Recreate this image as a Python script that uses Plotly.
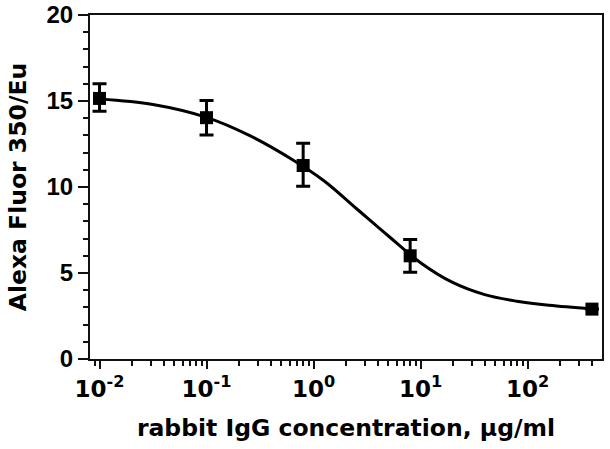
import plotly.graph_objects as go

# measured points
conc = [0.01, 0.1, 0.8, 8, 400]
signal = [15.15, 14.03, 11.25, 6.0, 2.9]
err_plus = [0.85, 1.0, 1.3, 0.95, 0.0]
err_minus = [0.75, 1.0, 1.2, 0.95, 0.0]

# fitted curve
curve_conc = [0.01, 0.0316, 0.1, 0.251, 0.631, 1.259, 2.512, 5.012, 10.0, 19.95, 39.8, 79.4, 158.5, 400]
curve_signal = [15.12, 14.8, 14.05, 13.0, 11.6, 10.35, 8.75, 7.15, 5.6, 4.45, 3.74, 3.36, 3.12, 2.92]

x_tickvals = [0.01, 0.1, 1, 10, 100]
x_ticktext = ["10<sup>-2</sup>", "10<sup>-1</sup>", "10<sup>0</sup>", "10<sup>1</sup>", "10<sup>2</sup>"]
y_tickvals = [0, 5, 10, 15, 20]
y_ticktext = ["0", "5", "10", "15", "20"]

minor_x = [m * 10 ** e for e in range(-3, 3) for m in range(2, 10)]

fig = go.Figure()
fig.add_trace(go.Scatter(
    x=curve_conc, y=curve_signal, mode="lines",
    line=dict(color="black", width=3, shape="spline", smoothing=1.0),
    hoverinfo="skip", showlegend=False))
fig.add_trace(go.Scatter(
    x=conc, y=signal, mode="markers",
    marker=dict(symbol="square", size=13, color="black"),
    error_y=dict(type="data", array=err_plus, arrayminus=err_minus,
                 color="black", thickness=3, width=7),
    showlegend=False))

tick_font_y = dict(family="Liberation Sans", size=24, color="black", weight="bold")
tick_font_x = dict(family="DejaVu Sans", size=23, color="black", weight="bold")
title_font = dict(family="DejaVu Sans", size=23.5, color="black", weight="bold")

fig.update_xaxes(
    type="log", range=[-2.089, 2.696], automargin=False,
    tickvals=x_tickvals, ticktext=x_ticktext, tickfont=tick_font_x,
    ticks="outside", ticklen=8, tickwidth=2, tickcolor="#111",
    minor=dict(ticks="outside", ticklen=5, tickwidth=2, tickcolor="#111", tickvals=minor_x),
    showline=True, linecolor="#111", linewidth=2, mirror=True,
    showgrid=False, zeroline=False,
    title=dict(text="rabbit IgG concentration, μg/ml", font=title_font, standoff=19),
)
fig.update_yaxes(
    range=[0, 20], automargin=False,
    tickvals=y_tickvals, ticktext=y_ticktext, tickfont=tick_font_y,
    ticks="outside", ticklen=10, tickwidth=2, tickcolor="#111",
    minor=dict(ticks="outside", ticklen=5, tickwidth=2, tickcolor="#111", dtick=1),
    showline=True, linecolor="#111", linewidth=2, mirror=True,
    showgrid=False, zeroline=False,
    title=dict(text="Alexa Fluor 350/Eu", font=title_font, standoff=13),
)
fig.update_layout(
    width=610, height=449,
    margin=dict(l=90, r=8, t=15, b=90),
    paper_bgcolor="white", plot_bgcolor="white",
    font=dict(family="DejaVu Sans", color="black"),
    hovermode=False,
)

fig.write_html("out.html", config={"displayModeBar": False, "staticPlot": True},
               post_script="document.body.style.margin='0';")
